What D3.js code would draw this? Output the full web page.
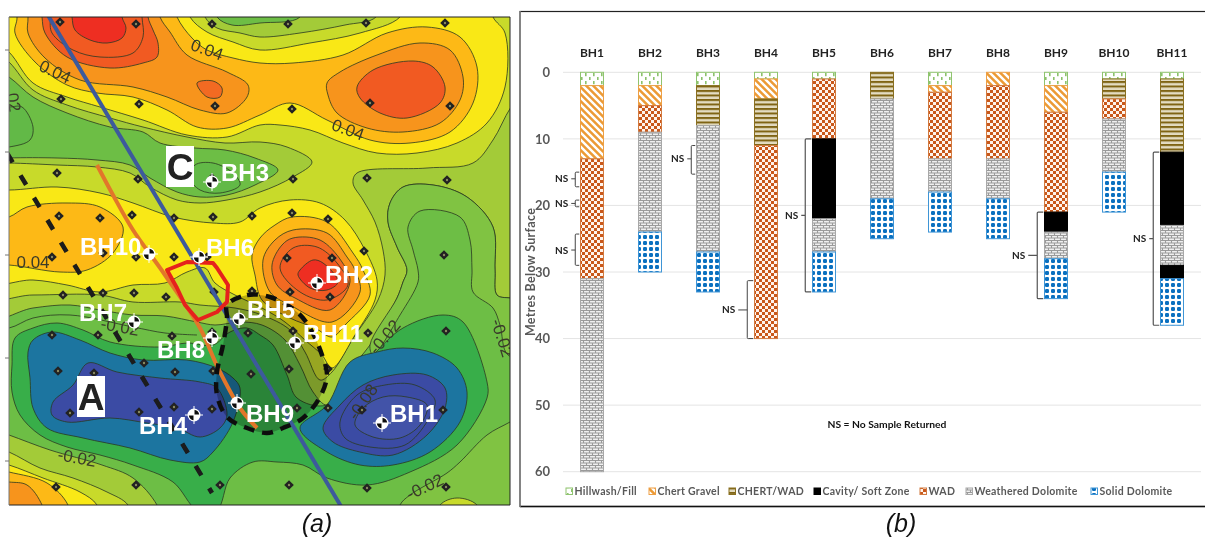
<!DOCTYPE html>
<html><head><meta charset="utf-8">
<script src="https://cdn.jsdelivr.net/npm/d3@7/dist/d3.min.js"></script>
<style>
html,body{margin:0;padding:0;background:#fff;overflow:hidden}
svg{display:block}
</style></head><body>
<svg id="c" width="1205" height="539"></svg>
<script>
// ---------- panel (b) data : [material, thickness in metres] from the surface down
const holes = ["BH1","BH2","BH3","BH4","BH5","BH6","BH7","BH8","BH9","BH10","BH11"];
const materials = ["Hillwash/Fill","Chert Gravel","CHERT/WAD","Cavity/ Soft Zone","WAD","Weathered Dolomite","Solid Dolomite"];
const BH1 = [["Hillwash/Fill",2],["Chert Gravel",11],["WAD",18],["Weathered Dolomite",29]];
const BH2 = [["Hillwash/Fill",2],["Chert Gravel",3],["WAD",4],["Weathered Dolomite",15],["Solid Dolomite",6]];
const BH3 = [["Hillwash/Fill",2],["CHERT/WAD",6],["Weathered Dolomite",19],["Solid Dolomite",6]];
const BH4 = [["Hillwash/Fill",1],["Chert Gravel",3],["CHERT/WAD",7],["WAD",29]];
const BH5 = [["Hillwash/Fill",1],["WAD",9],["Cavity/ Soft Zone",12],["Weathered Dolomite",5],["Solid Dolomite",6]];
const BH6 = [["CHERT/WAD",4],["Weathered Dolomite",15],["Solid Dolomite",6]];
const BH7 = [["Hillwash/Fill",2],["Chert Gravel",1],["WAD",10],["Weathered Dolomite",5],["Solid Dolomite",6]];
const BH8 = [["Chert Gravel",2],["WAD",11],["Weathered Dolomite",6],["Solid Dolomite",6]];
const BH9 = [["Hillwash/Fill",2],["Chert Gravel",4],["WAD",15],["Cavity/ Soft Zone",3],["Weathered Dolomite",4],["Solid Dolomite",6]];
const BH10 = [["Hillwash/Fill",1],["CHERT/WAD",3],["WAD",3],["Weathered Dolomite",8],["Solid Dolomite",6]];
const BH11 = [["Hillwash/Fill",1],["CHERT/WAD",11],["Cavity/ Soft Zone",11],["Weathered Dolomite",6],["Cavity/ Soft Zone",2],["Solid Dolomite",7]];
const logs = [BH1,BH2,BH3,BH4,BH5,BH6,BH7,BH8,BH9,BH10,BH11];
const depthTicks = [0,10,20,30,40,50,60];
// No-sample brackets: [hole, from depth, to depth, depth of the label]
const noSample = [["BH1",15,17.2,16],["BH1",19.2,20.2,19.7],["BH1",24.3,29,26.7],["BH3",11,15.3,13],["BH4",31.3,40,35.7],
                  ["BH5",10,33,21.5],["BH9",21,34,27.5],["BH11",12,38,25]];

// ---------- panel (a) data : map units; contour level index -> colour
const levelColor = {L0:"#EE2E24",L1:"#F15A22",L1b:"#F26A21",L2:"#F7941D",L3:"#FDB913",L4:"#F9E814",L5:"#C8DA2B",L6:"#A3CB38",
  L6b:"#80C342",L7:"#6DBE45",L7b:"#62B946",L8:"#39AE4A",L9:"#1C75A0",L10:"#3A4CA4",L11:"#4353A8"};
const up6 = [[-20,-10],[540,-10],[540,300],[510,298],[497,295],[495,270],[493,227],[467,197],[433,185],[403,187],[390,203],[388,222],[397,247],[407,270],[403,282],[397,298],[370,345],[345,375],[327,405],[313,392],[300,365],[285,340],[262,325],[240,322],[215,325],[197,322],[165,316],[133,315],[100,310],[70,305],[33,308],[-20,318]];
const up5 = [[-20,-10],[540,-10],[540,70],[511,107],[493,140],[473,163],[427,168],[357,173],[353,183],[363,200],[375,222],[383,250],[385,275],[378,300],[352,340],[332,372],[320,380],[305,352],[290,330],[262,315],[235,308],[200,305],[180,302],[133,302],[100,295],[33,295],[-20,295]];
const up4top = [[-20,-10],[183,-10],[190,17],[207,32],[233,42],[260,50],[310,43],[360,33],[400,17],[410,-10],[487,-10],[493,17],[505,33],[505,87],[487,123],[457,143],[417,153],[377,153],[343,143],[310,130],[280,125],[260,125],[227,137],[187,135],[143,120],[100,107],[67,97],[33,83],[9,52],[-20,30]];
const notch6 = [[200,-10],[205,17],[217,28],[240,33],[260,37],[300,33],[345,25],[376,17],[385,-10]];
const notch7 = [[210,-10],[217,17],[232,25],[260,23],[300,17],[305,-10]];
const wedge6 = [[-20,163],[9,163],[57,165],[97,167],[130,173],[150,187],[177,200],[200,203],[227,200],[260,192],[293,177],[312,162],[287,147],[260,142],[225,143],[187,137],[143,127],[110,118],[67,105],[33,90],[9,62],[-20,40]];
const wedge7 = [[-20,160],[9,158],[57,158],[97,160],[130,165],[150,178],[177,192],[200,197],[227,195],[255,185],[278,170],[255,158],[225,150],[195,148],[160,143],[143,132],[110,127],[67,113],[33,97],[9,77],[-20,60]];
const leftBlob = [[-20,107],[9,107],[22,107],[33,127],[30,140],[9,147],[-20,148]];
const cInner = [[195,165],[213,163],[233,173],[240,185],[220,193],[200,190],[190,178]];
const midYellow = [[-20,188],[9,190],[57,187],[100,193],[133,203],[173,217],[213,223],[240,222],[260,208],[290,200],[320,203],[345,220],[365,250],[377,280],[375,300],[355,335],[332,368],[322,355],[305,340],[285,322],[262,308],[235,295],[215,283],[205,268],[187,272],[165,283],[133,285],[100,292],[67,285],[33,280],[-20,282]];
const lobeAmber = [[-20,222],[9,217],[27,207],[67,203],[100,207],[123,227],[113,253],[87,270],[60,272],[9,265],[-20,265]];
const peak3 = [[252,255],[260,238],[275,225],[292,217],[327,222],[353,253],[363,270],[370,295],[345,325],[332,337],[315,328],[290,318],[262,300],[255,275]];
const peak2 = [[263,260],[275,240],[293,230],[327,233],[347,257],[355,270],[360,292],[332,322],[290,305],[270,292]];
const peak1b = [[272,265],[282,245],[293,238],[320,240],[342,262],[350,282],[330,310],[295,298],[277,285]];
const peak1 = [[280,268],[293,248],[317,247],[337,263],[348,285],[327,300],[300,292]];
const peak0 = [[298,275],[300,270],[313,260],[323,263],[338,282],[327,290],[310,288]];
const top3 = [[10,-10],[17,17],[15,33],[35,62],[67,85],[97,93],[133,97],[167,110],[197,127],[227,128],[260,115],[290,103],[327,120],[370,140],[410,143],[450,132],[473,103],[477,67],[460,37],[427,27],[387,33],[343,55],[293,63],[260,63],[233,58],[207,50],[192,38],[177,17],[170,-10]];
const top2 = [[25,-10],[28,17],[28,33],[45,58],[80,80],[133,87],[167,97],[200,110],[227,113],[247,97],[248,85],[227,72],[187,55],[170,32],[160,17],[155,-10]];
const top1b = [[197,83],[213,81],[222,88],[220,97],[207,97]];
const right2 = [[327,83],[340,72],[377,55],[420,43],[450,50],[463,77],[460,100],[440,123],[403,132],[367,128],[337,113],[328,95]];
const right1 = [[357,87],[373,70],[413,61],[433,67],[445,87],[440,103],[407,118],[380,113],[360,98]];
const top1 = [[40,-10],[42,17],[45,33],[67,57],[110,68],[143,63],[157,57],[158,43],[153,30],[148,17],[147,-10]];
const top1c = [[48,-10],[50,17],[52,33],[73,50],[100,57],[133,53],[143,37],[142,17],[141,-10]];
const top0 = [[70,-10],[72,17],[75,30],[90,40],[107,43],[122,38],[126,28],[122,17],[120,-10]];
const rightBand = [[390,203],[403,187],[433,185],[467,197],[493,227],[495,270],[497,295],[510,298],[540,300],[540,358],[508,355],[500,325],[493,308],[473,292],[472,270],[470,240],[460,217],[420,211],[408,227],[413,250],[418,270],[418,282],[400,315],[373,355],[370,345],[397,298],[403,282],[407,270],[397,247],[388,222]];
const trough8 = [[15,338],[33,328],[57,323],[83,330],[110,342],[160,347],[187,343],[213,345],[230,332],[247,328],[260,335],[273,345],[287,375],[297,398],[327,405],[373,355],[403,328],[443,315],[463,322],[487,382],[487,398],[457,445],[410,472],[367,485],[327,478],[303,465],[277,462],[253,462],[230,478],[217,510],[197,510],[173,482],[133,465],[100,455],[67,447],[40,435],[20,415],[12,392],[12,365]];
const troughW9 = [[28,352],[33,340],[52,332],[80,340],[110,353],[143,360],[187,360],[217,368],[233,378],[240,388],[233,422],[213,452],[200,462],[170,460],[130,448],[83,438],[47,428],[33,408],[30,378]];
const troughW10 = [[73,385],[88,363],[117,372],[160,378],[200,382],[217,388],[227,415],[220,428],[200,437],[177,428],[147,423],[110,418],[67,422],[52,415],[53,402]];
const troughE9 = [[300,428],[327,405],[350,362],[377,352],[403,348],[433,353],[457,368],[467,392],[460,422],[430,452],[393,465],[360,465],[327,452]];
const troughE10 = [[323,428],[340,405],[363,385],[393,375],[427,375],[445,388],[445,408],[427,435],[393,455],[360,452],[333,442]];
const troughE11 = [[355,425],[363,408],[383,397],[407,397],[427,405],[420,425],[400,438],[373,437]];
const troughE11line = [[340,422],[357,395],[385,385],[415,385],[435,400],[428,420],[405,445],[370,447],[345,438]];
const blBand6 = [[-20,425],[9,435],[50,450],[102,465],[133,478],[157,505],[165,530],[-20,530]];
const blBand5 = [[-20,442],[9,452],[40,468],[73,478],[107,492],[128,505],[135,530],[-20,530]];
const blBand4 = [[-20,458],[9,465],[43,478],[80,492],[97,505],[103,530],[-20,530]];
const blBand3 = [[-20,466],[9,472],[47,483],[68,505],[72,530],[-20,530]];
const blBand2 = [[-20,480],[9,482],[27,485],[42,505],[47,530],[-20,530]];
const brBand = [[540,405],[510,422],[487,435],[460,462],[447,473],[410,495],[400,505],[395,530],[540,530]];
const brBump = [[432,530],[440,505],[457,498],[477,505],[485,530]];
const mapLayers = [
  ["L6",up6],["L5",up5],["L4",up4top],["L6",notch6],["L7",notch7],["L6",wedge6],["L7",wedge7],["L7b",leftBlob],["L7b",cInner],
  ["L3",top3],["L2",top2],["L1b",top1b],["L2",right2],["L1",right1],["L1",top1],["L1",top1c],["L0",top0],
  ["L4",midYellow],["L3",lobeAmber],["L3",peak3],["L2",peak2],["L1b",peak1b],["L1",peak1],["L0",peak0],
  ["L6b",rightBand],["L8",trough8],["L9",troughW9],["L10",troughW10],["L9",troughE9],["L10",troughE10],["L10",troughE11line],["L11",troughE11],
  ["L6",blBand6],["L5",blBand5],["L4",blBand4],["L3",blBand3],["L2",blBand2],["L6b",brBand],["L5",brBump]
];
const extraContour = [[-20,328],[9,328],[33,318],[70,315],[133,327],[165,333],[197,335]];
const surveyPoints = [[60,22],[136,24],[212,24],[61,99],[139,104],[215,106],[57,173],[138,179],[212,178],[59,216],[100,218],[132,215],[174,218],[213,217],[252,216],[52,257],[103,253],[136,257],[174,257],[207,257],
 [288,24],[366,23],[445,23],[370,103],[450,106],[292,109],[293,179],[367,178],[447,180],[292,213],[328,219],[364,251],[287,258],[332,258],[444,255],
 [63,295],[103,293],[134,293],[166,297],[214,292],[252,291],[52,335],[98,335],[172,336],[212,332],[248,333],[144,363],[58,371],[94,373],[175,372],[213,371],[251,374],[70,413],[139,412],[174,407],[212,409],[56,487],[136,485],[220,485],
 [290,292],[330,297],[293,331],[368,333],[446,331],[289,369],[328,369],[297,408],[328,408],[362,410],[443,410],[289,485],[367,488],[446,487]];
const dashedLine = [[7,153],[212,493]];
const blueLine = [[46,12],[342,508]];
const orangeLine = [[97,165],[113,195],[133,230],[165,275],[200,328],[218,368],[240,408],[257,428]];
const redOutline = [[167,270],[187,262],[213,263],[217,268],[228,285],[227,302],[217,312],[198,320],[185,305],[177,288]];
const circleOutline = [[227,305],[247,295],[270,297],[297,312],[310,328],[322,355],[327,375],[320,397],[303,418],[283,428],[267,433],[247,428],[227,417],[217,395],[217,372],[223,345],[227,318]];
const boreholes = [["BH1",382,423,390,422],["BH2",317,283,325,283],["BH3",212,182,221,181],["BH4",194,415,139,434],["BH5",239,319,247,318],["BH6",199,257,206,256],
 ["BH7",134,322,79,321],["BH8",212,338,157,358],["BH9",237,403,246,422],["BH10",149,254,80,255],["BH11",295,343,303,342]];
const zoneLetters = [["A",77,376,105,417],["C",166,146,194,187]];
const contourLabels = [["0.04",55,72,25],["0.04",207,50,20],["0.04",348,130,20],["0.04",33,262,0],["-0.02",77,458,10],["-0.02",120,327,10],
 ["-0.02",385,337,-50],["-0.02",425,487,-25],["-0.02",502,338,72],["-0.08",363,402,-55],[".02",13,100,80]];
const frameTicks = [50,152,255,358,461];
const legendX = [566,649,729,814,920,966,1091];

// ---------- scales
const svg = d3.select("#c");
const defs = svg.append("defs");
const mapX = d3.scaleLinear().domain([9,510]).range([9,510]);
const mapY = d3.scaleLinear().domain([17,505]).range([17,505]);
const depthY = d3.scaleLinear().domain([0,60]).range([72.3,471.7]);
const holeX = d3.scaleBand().domain(holes).range([563,1201]).paddingInner(0.595).paddingOuter(0.2975);
const sans = "'Liberation Sans',Arial,sans-serif";
const cal = "Lato,'Open Sans',sans-serif";

// ---------- panel (a)
defs.append("clipPath").attr("id","mapClip").append("rect").attr("x",9).attr("y",17).attr("width",501).attr("height",488);
defs.append("filter").attr("id","soft").append("feGaussianBlur").attr("stdDeviation",0.55);
const map = svg.append("g").attr("clip-path","url(#mapClip)").append("g").attr("filter","url(#soft)");
const area = d3.line().x(d=>mapX(d[0])).y(d=>mapY(d[1])).curve(d3.curveCatmullRomClosed.alpha(0.5));
const openCurve = d3.line().x(d=>mapX(d[0])).y(d=>mapY(d[1])).curve(d3.curveCatmullRom.alpha(0.5));
map.append("rect").attr("x",9).attr("y",17).attr("width",501).attr("height",488).attr("fill",levelColor.L7);
map.selectAll("path.band").data(mapLayers).join("path").attr("class","band")
  .attr("d",d=>area(d[1])).attr("fill",d=>levelColor[d[0]]).attr("stroke","#2b3a22").attr("stroke-width",1).attr("stroke-opacity",.8);
map.append("path").attr("d",openCurve(extraContour)).attr("fill","none").attr("stroke","#2b3a22").attr("stroke-opacity",.8);
// darkened circular zone
map.append("path").attr("d",area(circleOutline)).attr("fill","#000").attr("fill-opacity",.24);
map.selectAll("text.cl").data(contourLabels).join("text").attr("class","cl")
  .attr("transform",d=>`translate(${mapX(d[1])},${mapY(d[2])}) rotate(${d[3]})`)
  .attr("text-anchor","middle").attr("dominant-baseline","central")
  .attr("font-family",sans).attr("font-size",17).attr("fill","#3a3a2a").text(d=>d[0]);
// survey diamonds
const dg = map.selectAll("g.sp").data(surveyPoints).join("g").attr("class","sp")
  .attr("transform",d=>`translate(${mapX(d[0])},${mapY(d[1])})`);
dg.append("path").attr("d","M0,-4.8L4.8,0L0,4.8L-4.8,0Z").attr("fill","#222");
dg.append("circle").attr("r",1.2).attr("fill","#8a8a60");
// features
const straight = d3.line().x(d=>mapX(d[0])).y(d=>mapY(d[1]));
map.append("path").attr("d",straight(dashedLine)).attr("stroke","#1a1a1a").attr("stroke-width",4.6).attr("fill","none").attr("stroke-dasharray","11 15.1");
map.append("path").attr("d",straight(blueLine)).attr("stroke","#3C5A9C").attr("stroke-width",4).attr("fill","none");
map.append("path").attr("d",openCurve(orangeLine)).attr("stroke","#E2762B").attr("stroke-width",4).attr("fill","none");
map.append("path").attr("d",straight(redOutline)+"Z").attr("stroke","#E5231F").attr("stroke-width",4).attr("fill","none").attr("stroke-linejoin","round");
map.append("path").attr("d",area(circleOutline)).attr("stroke","#111").attr("stroke-width",4.5).attr("fill","none").attr("stroke-dasharray","11 8");
// borehole markers
const bh = map.selectAll("g.bh").data(boreholes).join("g").attr("class","bh");
const mk = bh.append("g").attr("transform",d=>`translate(${mapX(d[1])},${mapY(d[2])})`);
mk.append("circle").attr("r",6.5).attr("fill","#fff");
const qArc = d3.arc().innerRadius(0).outerRadius(5.2);
mk.append("path").attr("d",qArc({startAngle:0,endAngle:Math.PI/2})).attr("fill","#111");
mk.append("path").attr("d",qArc({startAngle:Math.PI,endAngle:Math.PI*1.5})).attr("fill","#111");
mk.append("path").attr("d","M-9,0H9M0,-9V9").attr("stroke","#fff").attr("stroke-width",1);
bh.append("text").attr("x",d=>mapX(d[3])).attr("y",d=>mapY(d[4])).attr("font-family",sans).attr("font-weight",700)
  .attr("font-size",24).attr("fill","#fff").text(d=>d[0]);
// zone letters
const zl = map.selectAll("g.z").data(zoneLetters).join("g").attr("class","z");
zl.append("rect").attr("x",d=>mapX(d[1])).attr("y",d=>mapY(d[2])).attr("width",d=>mapX(d[3])-mapX(d[1])).attr("height",d=>mapY(d[4])-mapY(d[2])).attr("fill","#fff");
zl.append("text").attr("x",d=>(mapX(d[1])+mapX(d[3]))/2).attr("y",d=>(mapY(d[2])+mapY(d[4]))/2+13).attr("text-anchor","middle")
  .attr("font-family",sans).attr("font-weight",700).attr("font-size",37).attr("fill","#222").text(d=>d[0]);
// frame
svg.append("path").attr("d","M9,17H510V505H9").attr("fill","none").attr("stroke","#222").attr("stroke-width",1);
svg.append("path").attr("d","M9,17V505").attr("stroke","#777").attr("stroke-width",1);
svg.selectAll("line.ft").data(frameTicks).join("line").attr("class","ft").attr("x1",5).attr("x2",9).attr("y1",d=>d).attr("y2",d=>d).attr("stroke","#777");
svg.append("text").attr("x",317).attr("y",532).attr("text-anchor","middle").attr("font-family",sans).attr("font-style","italic").attr("font-size",25).attr("fill","#111").text("(a)");
svg.append("text").attr("x",901).attr("y",532).attr("text-anchor","middle").attr("font-family",sans).attr("font-style","italic").attr("font-size",25).attr("fill","#111").text("(b)");

// ---------- patterns of panel (b)
function pat(id,w,h,draw){const p=defs.append("pattern").attr("id",id).attr("patternUnits","userSpaceOnUse").attr("width",w).attr("height",h);
  p.append("rect").attr("width",w).attr("height",h).attr("fill","#fff");draw(p);}
pat("pHill",8,8,p=>{[[1,1],[5,5]].forEach(c=>p.append("rect").attr("x",c[0]).attr("y",c[1]).attr("width",1.6).attr("height",3.2).attr("fill","#8CC26C"));});
pat("pChert",7,7,p=>{p.append("path").attr("d","M-3.5,0L7,10.5M0,-3.5L10.5,7M-7,3.5L3.5,14").attr("stroke","#EC9A35").attr("stroke-width",2.5);});
pat("pCW",4.5,4.5,p=>{p.select("rect").attr("fill","#E4DCC2");p.append("rect").attr("y",0).attr("width",4.5).attr("height",2).attr("fill","#7F6414");});
pat("pWad",6,6,p=>{p.select("rect").attr("fill","#FFF4EC");[[0,0],[3,3]].forEach(c=>p.append("rect").attr("x",c[0]).attr("y",c[1]).attr("width",3).attr("height",3).attr("fill","#C9581A"));});
pat("pWeath",6,5,p=>{p.select("rect").attr("fill","#F0F0F0");p.append("path").attr("d","M0,0.5H6M0,3H6M1.5,0.5V3M4.5,3V5").attr("stroke","#9a9a9a").attr("stroke-width",1.1).attr("fill","none");});
pat("pSolid",6,6,p=>{p.append("rect").attr("x",1).attr("y",1).attr("width",4).attr("height",4).attr("rx",1.2).attr("fill","#0A70C0");});
const matFill = d3.scaleOrdinal().domain(materials).range(["url(#pHill)","url(#pChert)","url(#pCW)","#000","url(#pWad)","url(#pWeath)","url(#pSolid)"]);
const matEdge = d3.scaleOrdinal().domain(materials).range(["#8FC46F","#EDA046","#8A7020","#000","#D27A40","#A8A8A8","#3F95D6"]);

// ---------- panel (b)
svg.append("rect").attr("x",520).attr("y",11.5).attr("width",690).attr("height",495).attr("fill","#fff").attr("stroke","#222").attr("stroke-width",1.2);
svg.append("path").attr("d","M520,506.5H1205").attr("stroke","#111").attr("stroke-width",1.6);
svg.append("path").attr("d","M520,11V507").attr("stroke","#888").attr("stroke-width",1.4);
const gridG = svg.append("g");
gridG.selectAll("line").data(depthTicks).join("line").attr("x1",563).attr("x2",1201).attr("y1",d=>depthY(d)).attr("y2",d=>depthY(d)).attr("stroke","#e4e4e4").attr("stroke-width",1);
const yAxis = d3.axisLeft(depthY).tickValues(depthTicks).tickSize(0).tickPadding(0);
const ya = svg.append("g").attr("transform","translate(550,0)").call(yAxis);
ya.select(".domain").remove();
ya.selectAll("text").attr("font-family",cal).attr("font-size",13).attr("font-weight",700).attr("fill","#595959");
svg.append("text").attr("transform","translate(535,272) rotate(-90)").attr("text-anchor","middle").attr("font-family",cal).attr("font-size",12.5).attr("letter-spacing",.3).attr("font-weight",700).attr("fill","#595959").text("Metres Below Surface");
const xa = svg.append("g").attr("transform","translate(0,57)").call(d3.axisTop(holeX).tickSize(0).tickPadding(0));
xa.select(".domain").remove();
xa.selectAll("text").attr("font-family",cal).attr("font-size",12).attr("font-weight",700).attr("fill","#222");
holes.forEach((h,i)=>{
  let top=0;
  const rows=logs[i].map(r=>{const o={m:r[0],a:top,b:top+r[1]};top=o.b;return o;});
  svg.append("g").selectAll("rect").data(rows).join("rect")
    .attr("x",holeX(h)+.25).attr("width",holeX.bandwidth()-.5)
    .attr("y",d=>depthY(d.a)).attr("height",d=>depthY(d.b)-depthY(d.a))
    .attr("fill",d=>matFill(d.m)).attr("stroke",d=>matEdge(d.m)).attr("stroke-width",1);
});
const brace = svg.append("g");
noSample.forEach(n=>{
  const x0=holeX(n[0]);
  const span=n[2]-n[1];
  const big=span>12;
  const small=span<7;
  const right= x0-1;
  const left = small ? x0-5 : x0-7;
  const gap = (n[0]==="BH9"||n[0]==="BH4") ? 12 : 7;
  const y1=depthY(n[1]),y2=depthY(n[2]),ym=depthY(n[3]);
  brace.append("path").attr("d",`M${right},${y1}H${left+1}Q${left},${y1} ${left},${y1+1}V${y2-1}Q${left},${y2} ${left+1},${y2}H${right}M${left},${ym}H${left-gap+3}`)
    .attr("fill","none").attr("stroke",big?"#555":"#444").attr("stroke-width",big?1.2:1);
  brace.append("text").attr("x",left-gap).attr("y",ym+3.5).attr("text-anchor","end").attr("font-family",cal).attr("font-size",10).attr("font-weight",700).attr("fill","#222").text("NS");
});
svg.append("text").attr("x",887).attr("y",428).attr("text-anchor","middle").attr("font-family",cal).attr("font-size",10.3).attr("font-weight",700).attr("fill","#111").text("NS = No Sample Returned");
// legend
const lg = svg.append("g").selectAll("g").data(materials).join("g").attr("transform",(d,i)=>`translate(${legendX[i]},492)`);
lg.append("rect").attr("x",0).attr("y",-4).attr("width",6.5).attr("height",6.5).attr("fill",d=>matFill(d)).attr("stroke",d=>matEdge(d));
lg.append("text").attr("x",8.5).attr("y",3).attr("font-family",cal).attr("font-size",10.5).attr("font-weight",700).attr("letter-spacing",.28).attr("fill","#595959").text(d=>d);
</script></body></html>
